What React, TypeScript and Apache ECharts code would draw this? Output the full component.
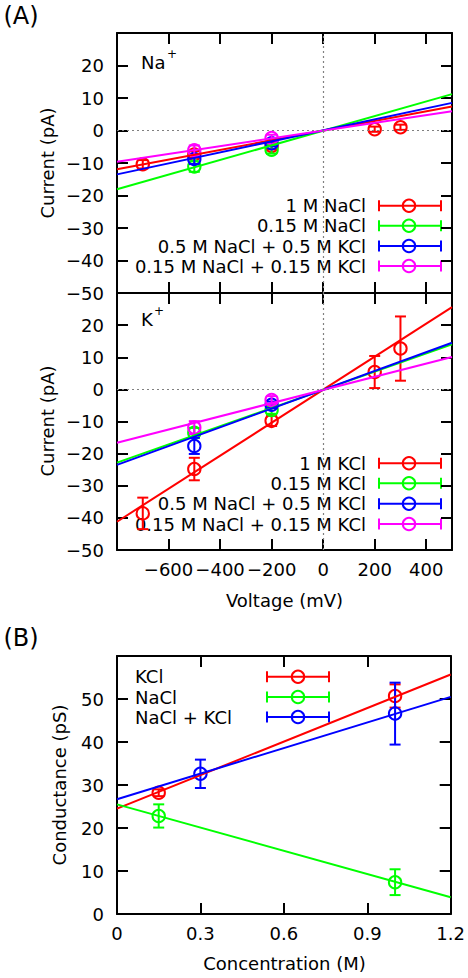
import React, { useEffect, useRef } from "react";
import * as echarts from "echarts";

// ---------- data ----------
const seriesColors = ["#ff0000", "#00ff00", "#0000ff", "#ff00ff"];

const naLabels = ["1 M NaCl", "0.15 M NaCl", "0.5 M NaCl + 0.5 M KCl", "0.15 M NaCl + 0.15 M KCl"];
const kLabels = ["1 M KCl", "0.15 M KCl", "0.5 M NaCl + 0.5 M KCl", "0.15 M NaCl + 0.15 M KCl"];
const bLabels = ["KCl", "NaCl", "NaCl + KCl"];

// [voltage (mV), current (pA), error (pA)]
const na1M = [[-700, -10.4, 1.3], [-500, -7.4, 1.0], [-200, -4.8, 1.0], [200, 0.4, 0.8], [300, 1.0, 0.8]];
const na015 = [[-500, -11.1, 1.6], [-200, -5.9, 1.2]];
const na05mix = [[-500, -8.8, 1.5], [-200, -3.9, 1.0]];
const na015mix = [[-500, -6.1, 1.5], [-200, -2.3, 1.0]];

const k1M = [[-700, -38.6, 4.9], [-500, -24.8, 3.5], [-200, -9.8, 1.6], [200, 5.4, 5.0], [300, 12.7, 10.0]];
const k015 = [[-500, -13.5, 1.5], [-200, -6.4, 1.2]];
const k05mix = [[-500, -17.6, 2.5], [-200, -4.8, 1.0]];
const k015mix = [[-500, -11.9, 2.0], [-200, -3.3, 1.2]];

// linear fits, values at the ends of the voltage axis
const fitVoltages = [-800, 500];
const naFit1M = [-11.9, 7.4];
const naFit015 = [-18.1, 11.2];
const naFit05mix = [-13.5, 8.5];
const naFit015mix = [-9.6, 5.9];
const kFit1M = [-41.2, 25.6];
const kFit015 = [-22.8, 14.0];
const kFit05mix = [-23.5, 14.5];
const kFit015mix = [-16.6, 10.1];

// [concentration (M), conductance (pS), error (pS)]
const bKCl = [[0.15, 28.2, 0.8], [1.0, 50.7, 2.7]];
const bNaCl = [[0.15, 22.8, 2.7], [1.0, 7.4, 3.0]];
const bMix = [[0.3, 32.6, 3.3], [1.0, 46.6, 7.2]];
const fitConc = [0, 1.2];
const bFitKCl = [24.5, 55.7];
const bFitNaCl = [25.5, 3.9];
const bFitMix = [26.7, 50.5];

// axis ranges / ticks
const voltAxis = { min: -800, max: 500, interval: 200 };
const currAxis = { min: -50, max: 30, interval: 10 };
const concAxis = { min: 0, max: 1.2, interval: 0.3 };
const condAxis = { min: 0, max: 60, interval: 10 };

// ---------- helpers ----------
const FONT = "DejaVu Sans";
const FS = 18;

const fmtNum = (v: number, dec = 0) => {
  const s = Math.abs(v).toFixed(dec);
  return v < 0 ? "\u2212" + s : s;
};

const errRender = (color: string) => (params: any, api: any) => {
  const x = api.value(0);
  const y = api.value(1);
  const e = api.value(2);
  const c = api.coord([x, y]);
  const t = api.coord([x, y + e]);
  const b = api.coord([x, y - e]);
  const w = 5.5;
  const st = { stroke: color, lineWidth: 2, fill: "none" };
  return {
    type: "group",
    children: [
      { type: "line", shape: { x1: c[0], y1: t[1], x2: c[0], y2: b[1] }, style: st },
      { type: "line", shape: { x1: c[0] - w, y1: t[1], x2: c[0] + w, y2: t[1] }, style: st },
      { type: "line", shape: { x1: c[0] - w, y1: b[1], x2: c[0] + w, y2: b[1] }, style: st },
      { type: "circle", shape: { cx: c[0], cy: c[1], r: 6.2 }, style: st },
    ],
  };
};

const axisLine = { show: true, onZero: false, lineStyle: { color: "#000", width: 2 } };
const axisTick = { show: true, inside: true, length: 11, lineStyle: { color: "#000", width: 2 } };
const labelStyle = { color: "#000", fontSize: FS, fontFamily: FONT };

function makeXAxes(gridIndex: number, range: any, showLabels: boolean, fmt: (v: number) => string) {
  return [
    {
      type: "value", gridIndex, position: "bottom", ...range,
      axisLine, axisTick, splitLine: { show: false },
      axisLabel: { show: showLabels, margin: 10, ...labelStyle, formatter: fmt, showMinLabel: true, showMaxLabel: true },
    },
    {
      type: "value", gridIndex, position: "top", ...range,
      axisLine, axisTick, splitLine: { show: false }, axisLabel: { show: false },
    },
  ];
}
function makeYAxes(gridIndex: number, range: any, fmt: (v: number) => string) {
  return [
    {
      type: "value", gridIndex, position: "left", ...range,
      axisLine, axisTick, splitLine: { show: false },
      axisLabel: { show: true, margin: 13, ...labelStyle, formatter: fmt, showMinLabel: true, showMaxLabel: true },
    },
    {
      type: "value", gridIndex, position: "right", ...range,
      axisLine, axisTick, splitLine: { show: false }, axisLabel: { show: false },
    },
  ];
}

function panelSeries(
  axisIdx: number,
  sets: number[][][],
  fits: number[][],
  fitX: number[],
  zeroLines: boolean
) {
  const out: any[] = [];
  if (zeroLines) {
    out.push({
      type: "line", xAxisIndex: axisIdx, yAxisIndex: axisIdx, data: [], z: 1, silent: true,
      markLine: {
        silent: true, symbol: "none", label: { show: false }, animation: false,
        lineStyle: { color: "#808080", type: [2, 3], width: 1.2 },
        data: [{ yAxis: 0 }, { xAxis: 0 }],
      },
    });
  }
  sets.forEach((d, i) => {
    const color = seriesColors[i];
    out.push({
      type: "custom", xAxisIndex: axisIdx, yAxisIndex: axisIdx, data: d, z: 3,
      encode: { x: 0, y: 1 }, renderItem: errRender(color), silent: true,
    });
    out.push({
      type: "line", xAxisIndex: axisIdx, yAxisIndex: axisIdx, z: 3, silent: true,
      data: fitX.map((x, j) => [x, fits[i][j]]),
      showSymbol: false, symbol: "none",
      lineStyle: { color, width: 2 },
    });
  });
  return out;
}

function legendGlyph(cx: number, x1: number, x2: number, y: number, color: string) {
  const st = { stroke: color, lineWidth: 2, fill: "none" };
  return [
    { type: "line", shape: { x1, y1: y, x2, y2: y }, style: st },
    { type: "line", shape: { x1, y1: y - 5.5, x2: x1, y2: y + 5.5 }, style: st },
    { type: "line", shape: { x1: x2, y1: y - 5.5, x2, y2: y + 5.5 }, style: st },
    { type: "circle", shape: { cx, cy: y, r: 6.2 }, style: st },
  ];
}

function rightLegend(labels: string[], rows: number[]) {
  const els: any[] = [];
  labels.forEach((lab, i) => {
    els.push({
      type: "text", x: 366, y: rows[i],
      style: { text: lab, fontSize: FS, fontFamily: FONT, fill: "#000", align: "right", verticalAlign: "middle" },
    });
    els.push(...legendGlyph(409, 379, 441, rows[i], seriesColors[i]));
  });
  return els;
}

function leftLegend(labels: string[], rows: number[]) {
  const els: any[] = [];
  labels.forEach((lab, i) => {
    els.push({
      type: "text", x: 135, y: rows[i],
      style: { text: lab, fontSize: FS, fontFamily: FONT, fill: "#000", align: "left", verticalAlign: "middle" },
    });
    els.push(...legendGlyph(298, 267, 329, rows[i], seriesColors[i]));
  });
  return els;
}

function txt(x: number, y: number, text: string, size: number, extra: any = {}) {
  return {
    type: "text", x, y, ...extra,
    style: { text, fontSize: size, fontFamily: FONT, fill: "#000", align: "center", verticalAlign: "middle", ...(extra.style || {}) },
  };
}

export default function App() {
  const ref = useRef<HTMLDivElement>(null);
  useEffect(() => {
    if (!ref.current) return;
    const chart = echarts.init(ref.current, undefined, { renderer: "svg" });

    const currFmt = (v: number) => (v >= currAxis.max ? "" : fmtNum(v));
    const voltFmt = (v: number) => (v <= voltAxis.min || v >= voltAxis.max ? "" : fmtNum(v));
    const concFmt = (v: number) => (Math.abs(v) < 1e-9 ? "0" : fmtNum(v, 1));
    const condFmt = (v: number) => (v >= condAxis.max ? "" : fmtNum(v));

    const option: any = {
      animation: false,
      textStyle: { fontFamily: FONT },
      grid: [
        { left: 117, right: 16, top: 33, height: 260 },
        { left: 117, right: 16, top: 293, height: 257 },
        { left: 117, right: 16, top: 656, height: 258 },
      ],
      xAxis: [
        ...makeXAxes(0, voltAxis, false, voltFmt),
        ...makeXAxes(1, voltAxis, true, voltFmt),
        ...makeXAxes(2, concAxis, true, concFmt),
      ],
      yAxis: [
        ...makeYAxes(0, currAxis, currFmt),
        ...makeYAxes(1, currAxis, currFmt),
        ...makeYAxes(2, condAxis, condFmt),
      ],
      series: [
        ...panelSeries(0, [na1M, na015, na05mix, na015mix], [naFit1M, naFit015, naFit05mix, naFit015mix], fitVoltages, true),
        ...panelSeries(2, [k1M, k015, k05mix, k015mix], [kFit1M, kFit015, kFit05mix, kFit015mix], fitVoltages, true),
        ...panelSeries(4, [bKCl, bNaCl, bMix], [bFitKCl, bFitNaCl, bFitMix], fitConc, false),
      ],
      graphic: [
        txt(21, 16, "(A)", 24),
        txt(21, 638, "(B)", 24),
        txt(47, 163, "Current (pA)", FS, { rotation: Math.PI / 2 }),
        txt(47, 421, "Current (pA)", FS, { rotation: Math.PI / 2 }),
        txt(59, 785, "Conductance (pS)", FS, { rotation: Math.PI / 2 }),
        txt(284.5, 600, "Voltage (mV)", FS),
        txt(284.5, 963, "Concentration (M)", FS),
        { type: "text", x: 141, y: 62, style: { text: "Na", fontSize: FS, fontFamily: FONT, fill: "#000", align: "left", verticalAlign: "middle" } },
        { type: "text", x: 167, y: 54, style: { text: "+", fontSize: 12, fontFamily: FONT, fill: "#000", align: "left", verticalAlign: "middle" } },
        { type: "text", x: 141, y: 319, style: { text: "K", fontSize: FS, fontFamily: FONT, fill: "#000", align: "left", verticalAlign: "middle" } },
        { type: "text", x: 154, y: 311, style: { text: "+", fontSize: 12, fontFamily: FONT, fill: "#000", align: "left", verticalAlign: "middle" } },
        ...rightLegend(naLabels, [205.7, 225.7, 246, 266]),
        ...rightLegend(kLabels, [463.3, 483.3, 503.7, 524]),
        ...leftLegend(bLabels, [676.7, 697, 717]),
      ],
    };
    chart.setOption(option);
    return () => chart.dispose();
  }, []);
  return (
    <div
      ref={ref}
      style={{ position: "fixed", left: 0, top: 0, width: 468, height: 978, background: "#fff" }}
    />
  );
}
